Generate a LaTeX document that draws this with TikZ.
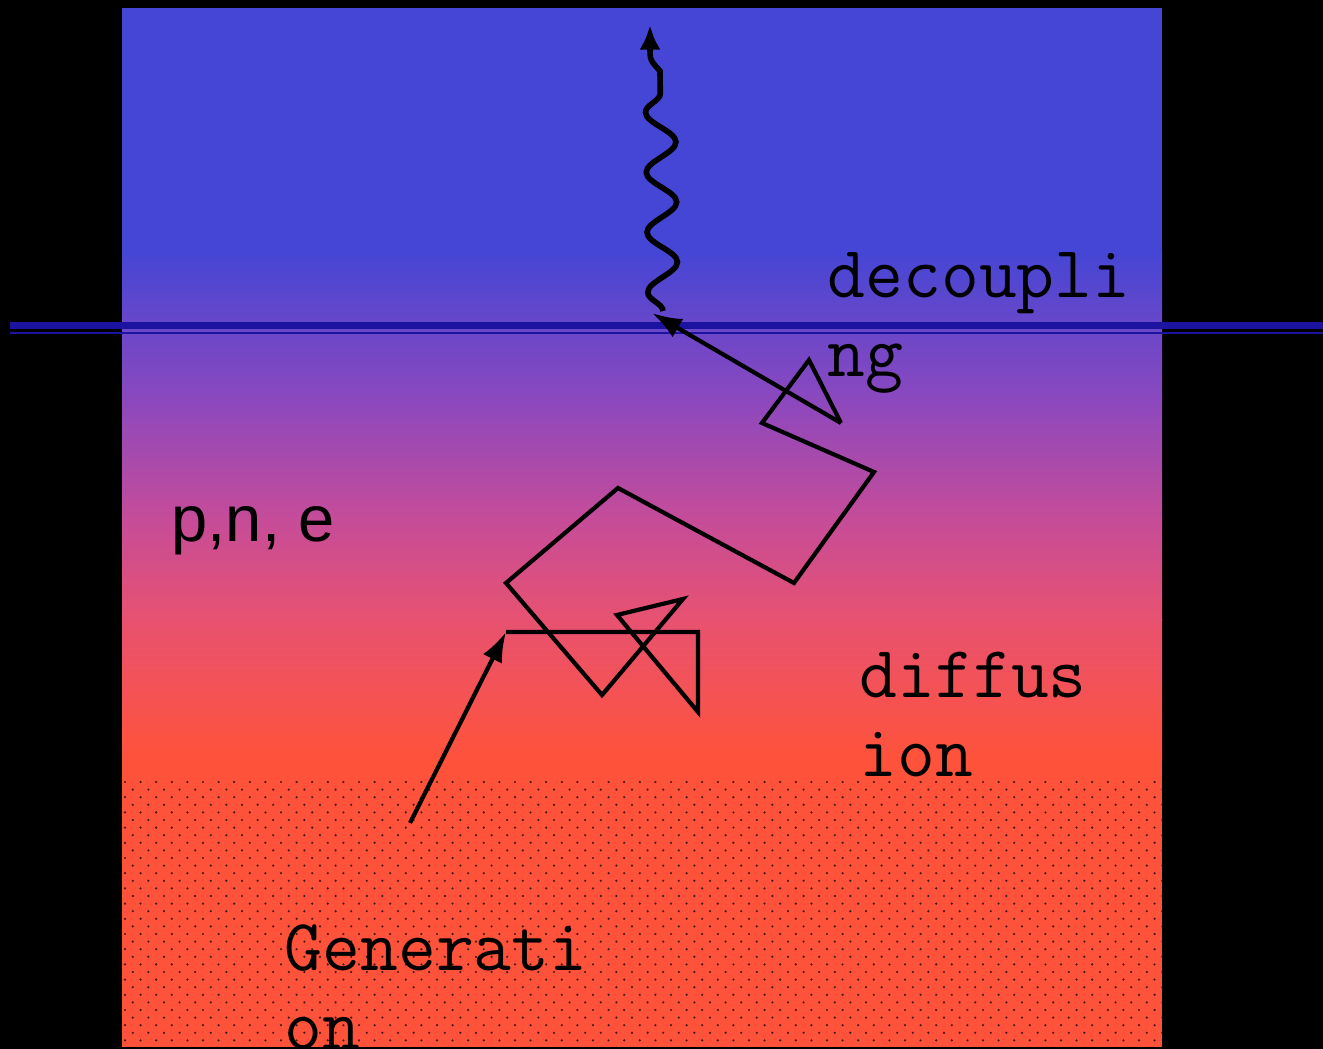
\documentclass[tikz,border=0pt]{standalone}
\usepackage{fontspec}
\newfontfamily\arialfont{Liberation Sans}
\usetikzlibrary{arrows.meta,decorations.pathmorphing}
\definecolor{topblue}{RGB}{69,70,213}
\definecolor{midpurple}{RGB}{140,72,190}
\definecolor{midpink}{RGB}{198,76,152}
\definecolor{lowpink}{RGB}{232,82,112}
\definecolor{hotred}{RGB}{255,82,58}
\definecolor{linenavy}{RGB}{28,20,160}
\definecolor{dotc}{RGB}{70,25,20}

\begin{document}
\begin{tikzpicture}[x=0.01cm, y=-0.01cm,
  walk/.style={line width=1.2pt, line join=miter},
  tip/.style={-{Latex[length=8.5pt, width=6pt]}},
  mono/.style={font=\ttfamily\fontsize{20.9}{22.7}\selectfont, anchor=base west,
               inner sep=0pt, align=left},
  sans/.style={font=\arialfont\fontsize{18.5}{22}\selectfont, anchor=base west, inner sep=0pt},
  band/.style={draw=none},
]
\useasboundingbox (0,0) rectangle (1323,1049);
\fill[black] (0,0) rectangle (1323,1049);
% colour layers
\fill[topblue] (122,8) rectangle (1162,252);
\shade[band, top color=topblue, bottom color=midpurple] (122,251) rectangle (1162,401);
\shade[band, top color=midpurple, bottom color=midpink] (122,400) rectangle (1162,521);
\shade[band, top color=midpink, bottom color=lowpink] (122,520) rectangle (1162,621);
\shade[band, top color=lowpink, bottom color=hotred] (122,620) rectangle (1162,761);
\fill[hotred] (122,760) rectangle (1162,1047);
% dotted ground
\begin{scope}
\clip (122,778) rectangle (1162,1047);
\foreach \r in {0,...,35} {
  \pgfmathsetmacro\yy{782+7.6*\r}
  \pgfmathsetmacro\xo{mod(\r,2)*7.8}
  \foreach \c in {0,...,66}
    \fill[dotc] (125+\xo+15.6*\c,\yy) circle[radius=0.35pt];
}
\end{scope}
% surface line
\draw[linenavy, line width=2pt] (10,325.5) -- (1323,325.5);
\draw[linenavy, line width=0.55pt] (10,333) -- (1323,333);

\coordinate (g0) at (410,823);
\coordinate (w0) at (506,632);
\coordinate (w1) at (698,632);
\coordinate (w2) at (698,712);
\coordinate (w3) at (617,615);
\coordinate (w4) at (683,599);
\coordinate (w5) at (602,695);
\coordinate (w6) at (506,583);
\coordinate (w7) at (618,488);
\coordinate (w8) at (794,583);
\coordinate (w9) at (874,472);
\coordinate (w10) at (762,423);
\coordinate (w11) at (809,360);
\coordinate (w12) at (841,423);
\coordinate (out) at (652,313);
\coordinate (ph0) at (663,311);
\coordinate (ph1) at (660,71);
\coordinate (ph2) at (650,25);

\draw[walk, tip] (g0) -- (w0);
\draw[walk] (w0) -- (w1) -- (w2) -- (w3) -- (w4) -- (w5) -- (w6) -- (w7)
  -- (w8) -- (w9) -- (w10) -- (w11) -- (w12);
\draw[walk, tip] (w12) -- (out);
\draw[line width=1.6pt, -{Latex[length=7pt, width=6pt]}]
  decorate[decoration={snake, segment length=0.6cm, amplitude=0.15cm}] {(ph0) -- (ph1)}
  .. controls (650,60) .. (ph2);

\node[mono] (dec) at (827,377) {decoupli\\ng};
\node[mono] (dif) at (859,777) {diffus\\ion};
\node[mono] (gen) at (284,1050) {Generati\\on};
\node[sans] (pne) at (171,542) {p,n, e};
\end{tikzpicture}
\end{document}
